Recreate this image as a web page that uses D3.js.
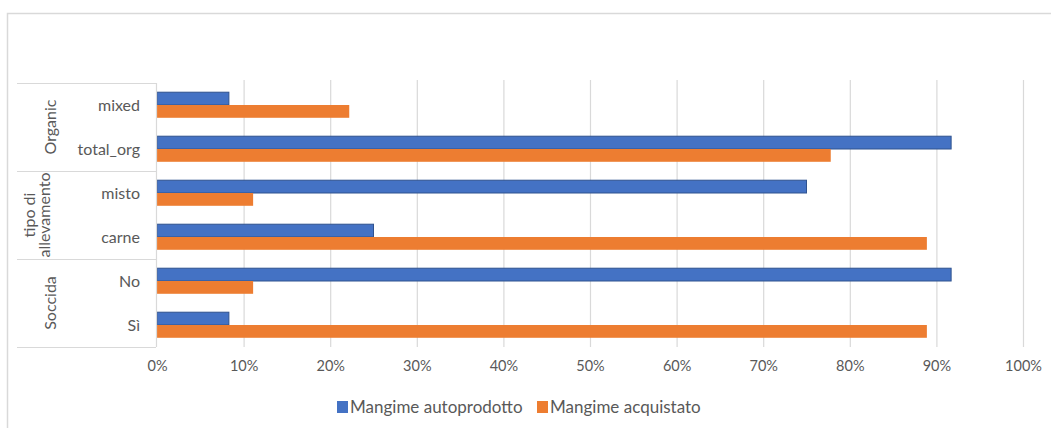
<!DOCTYPE html>
<html><head><meta charset="utf-8">
<script src="https://cdn.jsdelivr.net/npm/d3@7"></script>
<style>body{margin:0;background:#fff}svg{display:block}text{font-family:Lato,"Open Sans",sans-serif}</style>
</head><body><svg id="c" width="1051" height="428"></svg>
<script>
const categories = ["mixed","total_org","misto","carne","No","Sì"];
const groups = [
  {name:["Organic"], items:["mixed","total_org"]},
  {name:["tipo di","allevamento"], items:["misto","carne"]},
  {name:["Soccida"], items:["No","Sì"]}
];
const seriesNames = ["Mangime autoprodotto","Mangime acquistato"];
const autoprodotto = [0.083,0.917,0.75,0.25,0.917,0.083];
const acquistato   = [0.222,0.778,0.111,0.889,0.111,0.889];
const tickValues = [0,0.1,0.2,0.3,0.4,0.5,0.6,0.7,0.8,0.9,1.0];
const colors = ["#4472C4","#ED7D31"];

const svg = d3.select("#c");
// outer chart border
svg.append("path").attr("d","M7.5,428 V13.5 H1051").attr("fill","none").attr("stroke","#d9d9d9").attr("stroke-width",1.5);

const x = d3.scaleLinear().domain([0,1]).range([157,1023]);
const y = d3.scaleBand().domain(categories).range([83,347]);
const inner = d3.scaleBand().domain([0,1]).range([0,y.bandwidth()]).paddingOuter(0.72).paddingInner(0);

// gridlines
svg.append("g").selectAll("line").data(tickValues.slice(1)).join("line")
  .attr("x1",d=>x(d)+0.5).attr("x2",d=>x(d)+0.5).attr("y1",80).attr("y2",347)
  .attr("stroke","#d9d9d9").attr("stroke-width",1.2);

// x-axis labels
const xAxis = d3.axisBottom(x).tickValues(tickValues).tickFormat(d3.format(".0%")).tickSize(0).tickPadding(14);
const gx = svg.append("g").attr("transform","translate(0,347)").call(xAxis);
gx.select(".domain").remove();
gx.selectAll("text").attr("fill","#595959").attr("font-size",14.5);

// bars
const data = [autoprodotto, acquistato];
data.forEach((vals,si)=>{
  svg.append("g").selectAll("rect").data(categories).join("rect")
    .attr("x",x(0)).attr("y",(c)=>y(c)+inner(si))
    .attr("width",(c,i)=>x(vals[i])-x(0)).attr("height",inner.bandwidth())
    .attr("fill",colors[si])
    .attr("stroke",si===0?"#2F528F":"none").attr("stroke-width",1);
});

// category axis (multi-level)
const gy = svg.append("g");
gy.append("line").attr("x1",156.5).attr("x2",156.5).attr("y1",83).attr("y2",347).attr("stroke","#d9d9d9").attr("stroke-width",1.2);
gy.selectAll("text.cat").data(categories).join("text").attr("class","cat")
  .attr("x",140).attr("y",c=>y(c)+y.bandwidth()/2).attr("dy","0.35em")
  .attr("text-anchor","end").attr("fill","#595959").attr("font-size",16).text(d=>d);
// group separators
const bounds = [y(groups[0].items[0])].concat(groups.map(g=>y(g.items[g.items.length-1])+y.bandwidth()));
gy.selectAll("line.sep").data(bounds).join("line").attr("class","sep")
  .attr("x1",17).attr("x2",156).attr("y1",d=>d+0.5).attr("y2",d=>d+0.5)
  .attr("stroke","#d9d9d9").attr("stroke-width",1.2);
groups.forEach(g=>{
  const y0 = y(g.items[0]), y1 = y(g.items[g.items.length-1])+y.bandwidth();
  const cy = (y0+y1)/2;
  const n = g.name.length;
  g.name.forEach((line,li)=>{
    const cx = n===1 ? 50 : 29 + li*15;
    gy.append("text").attr("transform",`translate(${cx},${cy}) rotate(-90)`)
      .attr("text-anchor","middle").attr("dy","0.35em").attr("fill","#595959").attr("font-size",16).text(line);
  });
});

// legend
const lg = svg.append("g").attr("transform","translate(337,407)");
const lx = [0,200];
seriesNames.forEach((s,i)=>{
  lg.append("rect").attr("x",lx[i]).attr("y",-6).attr("width",11).attr("height",12).attr("fill",colors[i]);
  lg.append("text").attr("x",lx[i]+13).attr("y",0).attr("dy","0.35em").attr("fill","#595959").attr("font-size",17).text(s);
});
</script></body></html>
